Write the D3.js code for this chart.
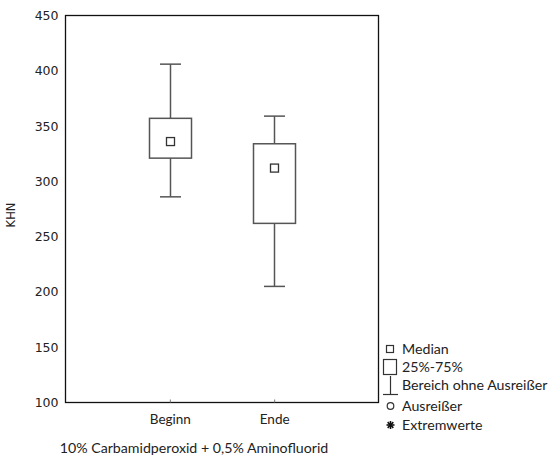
<!DOCTYPE html>
<html><head><meta charset="utf-8">
<script src="https://cdn.jsdelivr.net/npm/d3@7"></script>
<style>body{margin:0;background:#fff}svg{display:block}</style>
</head><body>
<svg id="c" width="554" height="457"></svg>
<script>
const categories = ["Beginn", "Ende"];
const medians = [336, 312];
const q1 = [321, 262];
const q3 = [357, 334];
const whiskerLow = [286, 205];
const whiskerHigh = [406, 359];
const yTicks = [100, 150, 200, 250, 300, 350, 400, 450];
const legendLabels = ["Median", "25%-75%", "Bereich ohne Ausreißer", "Ausreißer", "Extremwerte"];

const svg = d3.select("#c");
const L = 65.5, R = 378.5, T = 15.5, B = 402.5;
const x = d3.scalePoint().domain(categories).range([L, R]).padding(1);
const y = d3.scaleLinear().domain([100, 450]).range([B, T]);
const stroke = "#555";
const tickFont = "DejaVu Sans, sans-serif";
const lblFont = "Lato, 'Open Sans', sans-serif";

// frame
svg.append("rect").attr("x", L).attr("y", T).attr("width", R - L).attr("height", B - T)
  .attr("fill", "none").attr("stroke", "#111").attr("stroke-width", 1.3);

// y axis
const ya = svg.append("g").attr("transform", `translate(${L},0)`)
  .call(d3.axisLeft(y).tickValues(yTicks).tickSize(0).tickPadding(7));
ya.select(".domain").remove();
ya.selectAll("text").attr("font-family", tickFont).attr("font-size", 12.5).attr("fill", "#222");

// x axis
const xa = svg.append("g").attr("transform", `translate(0,${B})`)
  .call(d3.axisBottom(x).tickSizeInner(-3).tickSizeOuter(0).tickPadding(12));
xa.select(".domain").remove();
xa.selectAll("line").attr("stroke", "#777");
xa.selectAll("text").attr("font-family", lblFont).attr("font-size", 13.5).attr("fill", "#222");

// boxes
const bw = 42, cw = 21, ms = 8;
categories.forEach((c, i) => {
  const cx = Math.round(x(c)) + 0.5;
  const g = svg.append("g").attr("stroke", stroke).attr("stroke-width", 1.5).attr("fill", "none");
  g.append("line").attr("x1", cx).attr("x2", cx).attr("y1", y(whiskerHigh[i])).attr("y2", y(q3[i]));
  g.append("line").attr("x1", cx).attr("x2", cx).attr("y1", y(q1[i])).attr("y2", y(whiskerLow[i]));
  g.append("line").attr("x1", cx - cw / 2).attr("x2", cx + cw / 2).attr("y1", y(whiskerHigh[i])).attr("y2", y(whiskerHigh[i]));
  g.append("line").attr("x1", cx - cw / 2).attr("x2", cx + cw / 2).attr("y1", y(whiskerLow[i])).attr("y2", y(whiskerLow[i]));
  g.append("rect").attr("x", cx - bw / 2).attr("y", y(q3[i])).attr("width", bw).attr("height", y(q1[i]) - y(q3[i]));
  g.append("rect").attr("x", cx - ms / 2).attr("y", y(medians[i]) - ms / 2).attr("width", ms).attr("height", ms)
    .attr("stroke", "#333").attr("stroke-width", 1.3);
});

// y label
svg.append("text").attr("transform", "translate(15,215) rotate(-90)").attr("text-anchor", "middle")
  .attr("font-family", tickFont).attr("font-size", 11.5).attr("fill", "#222").text("KHN");

// x title
svg.append("text").attr("x", 194).attr("y", 453).attr("text-anchor", "middle")
  .attr("font-family", lblFont).attr("font-size", 14.2).attr("fill", "#222")
  .text("10% Carbamidperoxid + 0,5% Aminofluorid");

// legend
const lg = svg.append("g").attr("fill", "none").attr("stroke", "#333").attr("stroke-width", 1.2);
const ly = [349, 367, 385, 406, 425];
lg.append("rect").attr("x", 386.5).attr("y", 345.5).attr("width", 7).attr("height", 7);
lg.append("rect").attr("x", 383.5).attr("y", 359.5).attr("width", 13).attr("height", 15);
lg.append("line").attr("x1", 390.5).attr("x2", 390.5).attr("y1", 376).attr("y2", 394);
lg.append("line").attr("x1", 383).attr("x2", 398).attr("y1", 394.5).attr("y2", 394.5);
lg.append("circle").attr("cx", 390.5).attr("cy", 406).attr("r", 3.3);
svg.append("g").attr("transform", "translate(390.5,425)").selectAll("line")
  .data([0, 45, 90, 135]).join("line")
  .attr("x1", d => -4 * Math.cos(d * Math.PI / 180)).attr("y1", d => -4 * Math.sin(d * Math.PI / 180))
  .attr("x2", d => 4 * Math.cos(d * Math.PI / 180)).attr("y2", d => 4 * Math.sin(d * Math.PI / 180))
  .attr("stroke", "#111").attr("stroke-width", 1.6);
svg.append("g").selectAll("text").data(legendLabels).join("text")
  .attr("x", 402).attr("y", (d, i) => ly[i]).attr("dy", "0.35em")
  .attr("font-family", lblFont).attr("font-size", 14.2).attr("fill", "#222").text(d => d);
</script>
</body></html>
